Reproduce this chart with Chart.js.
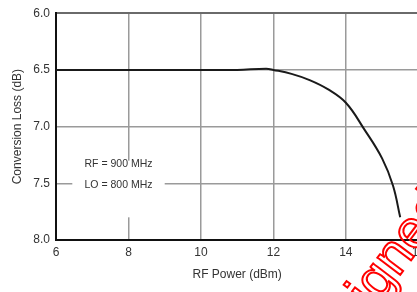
<!DOCTYPE html>
<html>
<head>
<meta charset="utf-8">
<script src="https://cdn.jsdelivr.net/npm/chart.js@4"></script>
<style>
  body { margin: 0; background: #fff; }
  #wrap { width: 417px; height: 292px; overflow: hidden; }
</style>
</head>
<body>
<div id="wrap"><canvas id="loss-chart" width="430" height="292"></canvas></div>
<script>
const rfPower = [6, 8, 10, 11, 11.8, 12, 12.5, 13, 13.5, 14, 14.5, 15, 15.3, 15.5];
const convLoss = [6.5, 6.5, 6.5, 6.5, 6.49, 6.5, 6.535, 6.59, 6.67, 6.79, 7.02, 7.28, 7.52, 7.8];
const noteLines = ['RF = 900 MHz', 'LO = 800 MHz'];
const stampText = 'Designed';

const font = 'Liberation Sans, Arial, sans-serif';

// white box with the test conditions
const notePlugin = {
    id: 'note',
    afterDatasetsDraw(chart) {
        const ctx = chart.ctx;
        const x = chart.scales.x, y = chart.scales.y;
        const left = x.getPixelForValue(6.45), right = x.getPixelForValue(9.0);
        const top = y.getPixelForValue(7.3), bottom = y.getPixelForValue(7.8);
        ctx.save();
        ctx.fillStyle = '#fff';
        ctx.fillRect(left, top, right - left, bottom - top);
        ctx.fillStyle = '#333';
        ctx.font = '10.5px ' + font;
        ctx.textAlign = 'center';
        ctx.textBaseline = 'middle';
        const cx = (left + right) / 2;
        ctx.fillText(noteLines[0], cx, y.getPixelForValue(7.33));
        ctx.fillText(noteLines[1], cx, y.getPixelForValue(7.5) + 2);
        ctx.restore();
    }
};

// red outlined stamp in the corner
const stampPlugin = {
    id: 'stamp',
    afterDraw(chart) {
        const ctx = chart.ctx;
        ctx.save();
        ctx.translate(315, 388);
        ctx.rotate(-53 * Math.PI / 180);
        ctx.font = '54px ' + font;
        ctx.strokeStyle = '#ff0000';
        ctx.lineWidth = 2;
        ctx.strokeText(stampText, 0, 0);
        ctx.restore();
    }
};

new Chart(document.getElementById('loss-chart'), {
    type: 'scatter',
    data: {
        datasets: [{
            data: rfPower.map((v, i) => ({x: v, y: convLoss[i]})),
            showLine: true,
            borderColor: '#1a1a1a',
            borderWidth: 2,
            pointRadius: 0,
            tension: 0.4,
            clip: false
        }]
    },
    options: {
        responsive: false,
        animation: false,
        layout: { padding: { top: 13, right: 9, left: 0, bottom: 0 } },
        plugins: { legend: { display: false }, tooltip: { enabled: false } },
        scales: {
            x: {
                min: 6, max: 16,
                ticks: { stepSize: 2, padding: 5, color: '#333', font: { family: font, size: 12 } },
                grid: { color: '#9a9a9a', lineWidth: 1.5, drawTicks: false },
                border: { color: '#111', width: 2 },
                title: { display: true, text: 'RF Power (dBm)', color: '#333',
                         font: { family: font, size: 12 }, padding: { top: 4, bottom: 10 } },
                afterFit(s) { s.height = 52; }
            },
            y: {
                min: 6, max: 8, reverse: true,
                ticks: { stepSize: 0.5, padding: 6, color: '#333', font: { family: font, size: 12 },
                         callback: v => v.toFixed(1) },
                grid: {
                    color: c => c.tick && c.tick.value === 6 ? '#6a6a6a' : '#9a9a9a',
                    lineWidth: c => c.tick && c.tick.value === 6 ? 2 : 1.5,
                    drawTicks: false
                },
                border: { color: '#111', width: 2 },
                title: { display: true, text: 'Conversion Loss (dB)', color: '#333',
                         font: { family: font, size: 12 }, padding: { top: 10, bottom: 4 } },
                afterFit(s) { s.width = 56; }
            }
        }
    },
    plugins: [notePlugin, stampPlugin]
});
</script>
</body>
</html>
